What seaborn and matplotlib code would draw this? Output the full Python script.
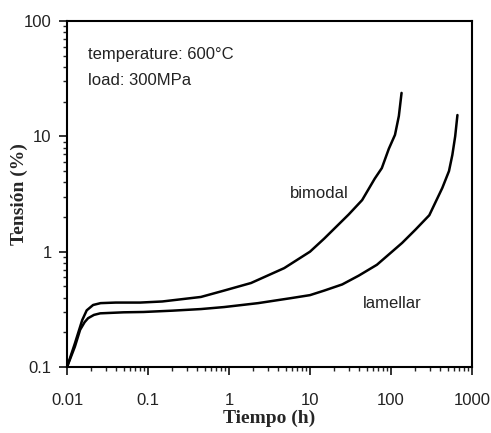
import matplotlib
matplotlib.use("Agg")
import matplotlib.pyplot as plt
import seaborn as sns
import pandas as pd
from matplotlib.ticker import FixedLocator, FixedFormatter, LogLocator, NullFormatter

# Data
bimodal_t = [0.01, 0.0125, 0.0154, 0.0175, 0.021, 0.026, 0.04, 0.08, 0.15, 0.45, 0.87,
             1.87, 4.8, 10, 15, 30, 44, 63, 77, 94, 112, 125, 135]
bimodal_e = [0.1, 0.16, 0.255, 0.31, 0.345, 0.358, 0.362, 0.362, 0.37, 0.405, 0.46,
             0.535, 0.72, 1.0, 1.3, 2.1, 2.8, 4.3, 5.3, 7.8, 10.3, 15.0, 23.8]

lamellar_t = [0.01, 0.0125, 0.0145, 0.0165, 0.0182, 0.0215, 0.0257, 0.05, 0.088, 0.2,
              0.45, 0.87, 2.29, 5.89, 10, 15, 25, 40, 67, 103, 137, 200, 297, 430, 520,
              572, 620, 661]
lamellar_e = [0.1, 0.15, 0.21, 0.245, 0.265, 0.283, 0.292, 0.298, 0.30, 0.308,
              0.318, 0.331, 0.358, 0.396, 0.42, 0.46, 0.52, 0.62, 0.77, 1.0, 1.19, 1.55,
              2.07, 3.57, 5.0, 6.9, 10.0, 15.3]

x_ticks = [0.01, 0.1, 1, 10, 100, 1000]
x_labels = ["0.01", "0.1", "1", "10", "100", "1000"]
y_ticks = [0.1, 1, 10, 100]
y_labels = ["0.1", "1", "10", "100"]

df = pd.concat([
    pd.DataFrame({"t": bimodal_t, "e": bimodal_e, "s": "bimodal"}),
    pd.DataFrame({"t": lamellar_t, "e": lamellar_e, "s": "lamellar"}),
])

sns.set_style("white")
plt.rcParams["font.family"] = ["Liberation Sans", "DejaVu Sans"]

fig = plt.figure(figsize=(4.91, 4.33), dpi=100)
ax = fig.add_axes([0.1365, 0.1524, 0.8248, 0.7991])

sns.lineplot(data=df, x="t", y="e", units="s", estimator=None, sort=False,
             color="black", linewidth=1.8, ax=ax, legend=False)

ax.set_xscale("log")
ax.set_yscale("log")
ax.set_xlim(0.01, 1000)
ax.set_ylim(0.1, 100)

ax.xaxis.set_major_locator(FixedLocator(x_ticks))
ax.xaxis.set_major_formatter(FixedFormatter(x_labels))
ax.yaxis.set_major_locator(FixedLocator(y_ticks))
ax.yaxis.set_major_formatter(FixedFormatter(y_labels))
ax.xaxis.set_minor_locator(LogLocator(base=10, subs=range(2, 10)))
ax.yaxis.set_minor_locator(LogLocator(base=10, subs=range(2, 10)))
ax.xaxis.set_minor_formatter(NullFormatter())
ax.yaxis.set_minor_formatter(NullFormatter())

ax.tick_params(which="major", direction="out", length=6, width=1.3, labelsize=12,
               bottom=True, left=True, colors="#222222")
ax.tick_params(axis="x", which="major", pad=13)
ax.tick_params(axis="y", which="major", pad=5)
ax.tick_params(which="minor", direction="out", length=3, width=1.0,
               bottom=True, left=True, colors="#222222")

for sp in ax.spines.values():
    sp.set_linewidth(1.5)
    sp.set_color("black")

ax.set_xlabel("Tiempo (h)", fontfamily="Liberation Serif", fontweight="bold",
              fontsize=14)
ax.xaxis.set_label_coords(0.5, -0.148)
ax.xaxis.label.set_va("center")
ax.set_ylabel("Tensión (%)", fontfamily="Liberation Serif", fontweight="bold",
              fontsize=14)
ax.yaxis.set_label_coords(-0.118, 0.5)
ax.yaxis.label.set_va("center")

ax.text(0.052, 0.902, "temperature: 600°C", transform=ax.transAxes,
        fontsize=12, va="center", ha="left", color="#222222")
ax.text(0.052, 0.829, "load: 300MPa", transform=ax.transAxes,
        fontsize=12, va="center", ha="left", color="#222222")
ax.text(13.1, 3.2, "bimodal", fontsize=12, ha="center", va="center", color="#222222")
ax.text(103, 0.358, "lamellar", fontsize=12, ha="center", va="center", color="#222222")

fig.savefig("out.png", dpi=100)
